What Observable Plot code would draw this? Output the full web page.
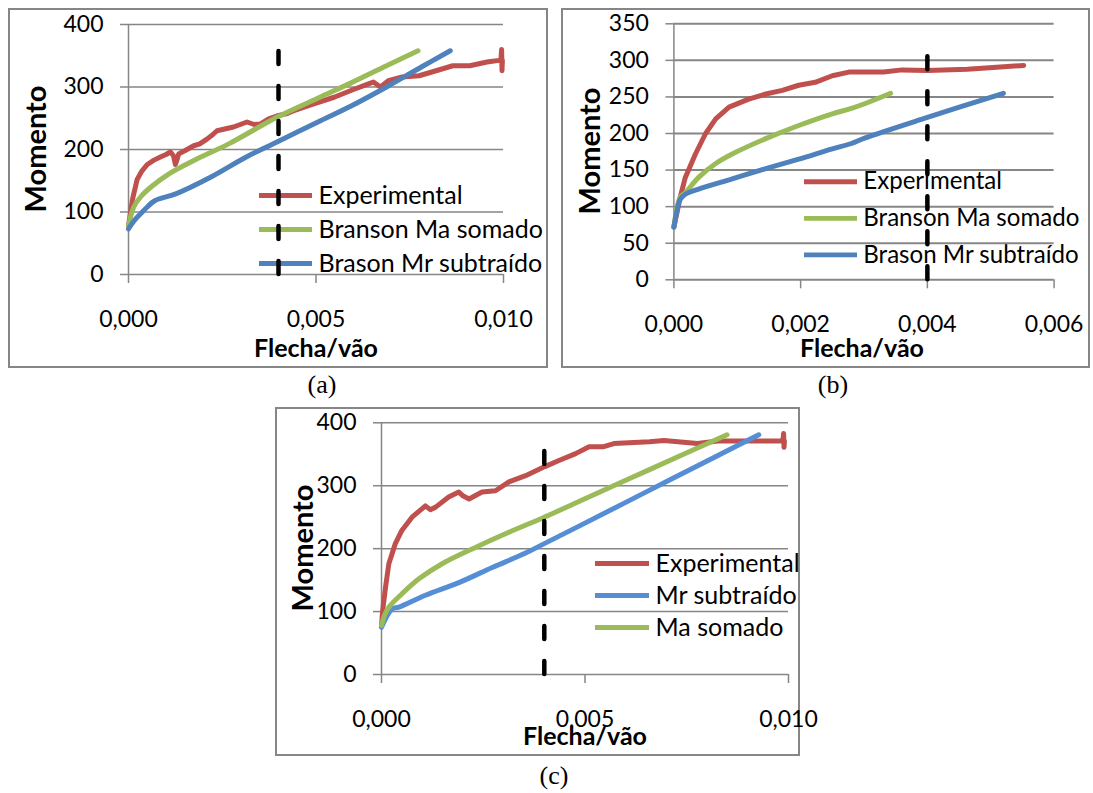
<!DOCTYPE html>
<html><head><meta charset="utf-8">
<script src="https://cdn.jsdelivr.net/npm/d3@7"></script>
<script src="https://cdn.jsdelivr.net/npm/@observablehq/plot@0.6"></script>
<style>
body{margin:0;background:#fff;width:1093px;height:793px;position:relative;overflow:hidden;font-family:Lato,sans-serif}
.box{position:absolute;border:2px solid #868686;background:#fff;box-sizing:border-box;z-index:0}
.leg{position:absolute;z-index:1}
.chart{position:absolute;z-index:2}
.ttl{position:absolute;z-index:3;font-family:Lato,sans-serif;font-weight:bold;color:#000;white-space:nowrap;transform:translate(-50%,-50%)}
.ttl.rot{transform:translate(-50%,-50%) rotate(-90deg)}
.cap{position:absolute;font-family:"Liberation Serif",serif;font-size:26px;color:#000;transform:translate(-50%,-50%)}
svg g[aria-label="x-axis tick"] path, svg g[aria-label="y-axis tick"] path,
svg g[aria-label="x-axis"] .tick line, svg g[aria-label="y-axis"] .tick line{stroke:#868686;stroke-width:1.5}
svg g[aria-label="x-axis"] .domain, svg g[aria-label="y-axis"] .domain{display:none}
</style></head>
<body>
<script>
// ---------- data ----------
const xTicksA = [0, 0.005, 0.010];
const yTicksA = [0, 100, 200, 300, 400];
const namesA = ["Experimental", "Branson Ma somado", "Brason Mr subtraído"];
const expA = [[0,78],[0.0001,118],[0.000125,125],[0.00023,152],[0.00035,165],[0.0005,176],[0.00068,183],[0.00085,188],[0.001,192],[0.00112,196],[0.0012,190],[0.00125,176],[0.0013,185],[0.00134,193],[0.0015,198],[0.00174,206],[0.0019,209],[0.0021,217],[0.00225,224],[0.00236,230],[0.0028,236],[0.00316,244],[0.00335,240],[0.00352,241],[0.00374,249],[0.00397,254],[0.0042,257],[0.00441,262],[0.00494,273],[0.0055,284],[0.006,296],[0.0064,305],[0.00653,308],[0.00672,300],[0.00693,310],[0.0073,316],[0.00775,318],[0.0082,326],[0.00865,334],[0.0091,334],[0.00956,340],[0.00993,343],[0.00995,360],[0.00996,326],[0.00997,343]];
const maA = [[0,78],[0.00014,108],[0.00032,124],[0.0006,140],[0.00108,161],[0.00173,182],[0.00267,209],[0.00397,252],[0.00512,284],[0.00595,307],[0.00688,334],[0.00772,358]];
const mrA = [[0,73],[0.00015,86],[0.00032,97],[0.0005,108],[0.0007,118],[0.00126,129],[0.0022,156],[0.00314,188],[0.00396,212],[0.00512,246],[0.00595,270],[0.00688,300],[0.00781,332],[0.00858,358]];

const xTicksB = [0, 0.002, 0.004, 0.006];
const yTicksB = [0, 50, 100, 150, 200, 250, 300, 350];
const namesB = ["Experimental", "Branson Ma somado", "Brason Mr subtraído"];
const expB = [[0,72],[0.0001,113],[0.00018,140],[0.00034,172],[0.0005,200],[0.00066,220],[0.00087,236],[0.00118,247],[0.00145,254],[0.00171,259],[0.00197,266],[0.00223,270],[0.0025,279],[0.00276,284],[0.00302,284],[0.00331,284],[0.0036,287],[0.004,286],[0.00463,288],[0.00515,291],[0.00552,293]];
const maB = [[0,72],[0.0001,113],[0.00018,119],[0.00039,140],[0.00066,159],[0.00092,172],[0.00145,193],[0.00197,211],[0.0025,227],[0.00279,234],[0.00302,241],[0.00342,255]];
const mrB = [[0,72],[0.00005,95],[0.0001,110],[0.00018,117],[0.00039,124],[0.00092,138],[0.00145,152],[0.00197,165],[0.0025,179],[0.00279,186],[0.00302,194],[0.004,222],[0.0052,255]];

const xTicksC = [0, 0.005, 0.010];
const yTicksC = [0, 100, 200, 300, 400];
const namesC = ["Experimental", "Mr subtraído", "Ma somado"];
const expC = [[0,78],[0.00003,102],[0.0001,139],[0.00018,176],[0.00034,208],[0.0005,229],[0.00075,250],[0.00108,268],[0.0012,262],[0.00133,266],[0.00165,282],[0.0019,290],[0.002,284],[0.00215,279],[0.00247,290],[0.0028,292],[0.00313,306],[0.00354,316],[0.004,330],[0.00436,340],[0.00477,351],[0.0051,362],[0.00546,362],[0.00571,367],[0.00658,370],[0.00694,372],[0.00742,369],[0.00776,367],[0.00827,371],[0.00986,371],[0.00988,383],[0.00989,361],[0.0099,371]];
const mrC = [[0,75],[0.00026,104],[0.00043,107],[0.00108,126],[0.0019,146],[0.00272,170],[0.00354,193],[0.004,208],[0.00489,237],[0.00653,291],[0.00817,345],[0.00927,381]];
const maC = [[0,78],[0.00008,95],[0.00018,107],[0.0005,128],[0.00092,152],[0.00149,176],[0.00231,202],[0.00313,226],[0.004,250],[0.00489,276],[0.00653,324],[0.00849,381]];

const dashXs = [0.004, 0.004, 0.004];
const dashTops = [360, 310, 360];
const colorsAB = ["#C0504D", "#9BBB59", "#4F81BD"];
const colorsC = ["#C0504D", "#558ED5", "#9BBB59"];

// ---------- drawing ----------
const fmt = d => d.toFixed(3).replace(".", ",");

function el(cls, css, html) {
  const d = document.createElement("div");
  d.className = cls;
  Object.assign(d.style, css);
  if (html != null) d.textContent = html;
  document.body.appendChild(d);
  return d;
}

function panel(cfg) {
  const {box, m, xDomain, yDomain, xTicks, yTicks, names, colors, series, dashX, dashTop, gridW, leg, titles, xPad} = cfg;
  el("box", {left: box[0]+"px", top: box[1]+"px", width: box[2]+"px", height: box[3]+"px"});
  const expData = series[0].map(([x, y]) => ({x, y, name: names[0]}));
  const theoData = series.slice(1).flatMap((pts, i) => pts.map(([x, y]) => ({x, y, name: names[i + 1]})));
  const chart = Plot.plot({
    width: box[2], height: box[3],
    marginLeft: m[0], marginRight: m[1], marginTop: m[2], marginBottom: m[3],
    style: {background: "transparent", color: "#000", fontFamily: "Lato, sans-serif", fontSize: "23px", overflow: "visible"},
    x: {domain: xDomain, ticks: xTicks, tickFormat: fmt, tickSize: 9, tickPadding: xPad, label: null},
    y: {domain: yDomain, ticks: yTicks, tickSize: 8, tickPadding: 17, label: null},
    color: {domain: names, range: colors},
    marks: [
      Plot.ruleY(yTicks, {stroke: "#868686", strokeWidth: gridW}),
      Plot.ruleX([0], {stroke: "#868686", strokeWidth: 1.5}),
      Plot.line(expData, {x: "x", y: "y", z: "name", stroke: "name", strokeWidth: 5, strokeLinejoin: "round", strokeLinecap: "round"}),
      Plot.line(theoData, {x: "x", y: "y", z: "name", stroke: "name", strokeWidth: 5, curve: "catmull-rom", strokeLinecap: "round"}),
      Plot.ruleX([dashX], {y1: 0, y2: dashTop, stroke: "#000", strokeWidth: 4.5, strokeDasharray: "13,22", strokeLinecap: "round"})
    ]
  });
  const wrap = el("chart", {left: box[0]+"px", top: box[1]+"px"});
  wrap.appendChild(chart);

  // legend
  const lg = Plot.plot({
    width: 300, height: leg.h, marginLeft: 0, marginRight: 300 - leg.len, marginTop: 20, marginBottom: 20,
    style: {background: "transparent", color: "#000", fontFamily: "Lato, sans-serif", overflow: "visible"},
    x: {domain: [0, 1], axis: null},
    y: {type: "point", domain: names, axis: null, padding: 0},
    color: {domain: names, range: colors},
    marks: [
      Plot.ruleY(names, {y: d => d, x1: () => 0, x2: () => 1, stroke: d => d, strokeWidth: 5}),
      Plot.text(names, {x: () => 1, y: d => d, text: d => d, textAnchor: "start", dx: 6, fontSize: 25, fill: "#000"})
    ]
  });
  const lw = el("leg", {left: leg.x+"px", top: (leg.y - 20)+"px"});
  lw.appendChild(lg);

  el("ttl rot", {left: titles.y[0]+"px", top: titles.y[1]+"px", fontSize: "29px"}, "Momento");
  el("ttl", {left: titles.x[0]+"px", top: titles.x[1]+"px", fontSize: "25px"}, "Flecha/vão");
}

panel({
  box: [8, 8, 540, 360], m: [120, 45, 16, 94],
  xDomain: [0, 0.010], yDomain: [0, 400], xTicks: xTicksA, yTicks: yTicksA,
  names: namesA, colors: colorsAB, series: [expA, maA, mrA],
  dashX: dashXs[0], dashTop: dashTops[0], gridW: 1.5, xPad: 27,
  leg: {x: 259, y: 195, h: 108, len: 53},
  titles: {y: [34, 149], x: [316, 347]}
});
panel({
  box: [561, 8, 529, 360], m: [112.4, 36.4, 15.3, 88.7],
  xDomain: [0, 0.006], yDomain: [0, 350], xTicks: xTicksB, yTicks: yTicksB,
  names: namesB, colors: colorsAB, series: [expB, maB, mrB],
  dashX: dashXs[1], dashTop: dashTops[1], gridW: 2, xPad: 27,
  leg: {x: 804, y: 182, h: 116, len: 55},
  titles: {y: [588, 151], x: [862, 347]}
});
panel({
  box: [275, 407, 525, 349], m: [106, 12, 15.3, 82],
  xDomain: [0, 0.010], yDomain: [0, 400], xTicks: xTicksC, yTicks: yTicksC,
  names: namesC, colors: colorsC, series: [expC, mrC, maC],
  dashX: dashXs[2], dashTop: dashTops[2], gridW: 1.5, xPad: 27,
  leg: {x: 595, y: 563, h: 104, len: 54},
  titles: {y: [301, 548], x: [585, 735]}
});

el("cap", {left: "322px", top: "385px"}, "(a)");
el("cap", {left: "833px", top: "385px"}, "(b)");
el("cap", {left: "554px", top: "776px"}, "(c)");
</script>
</body></html>
